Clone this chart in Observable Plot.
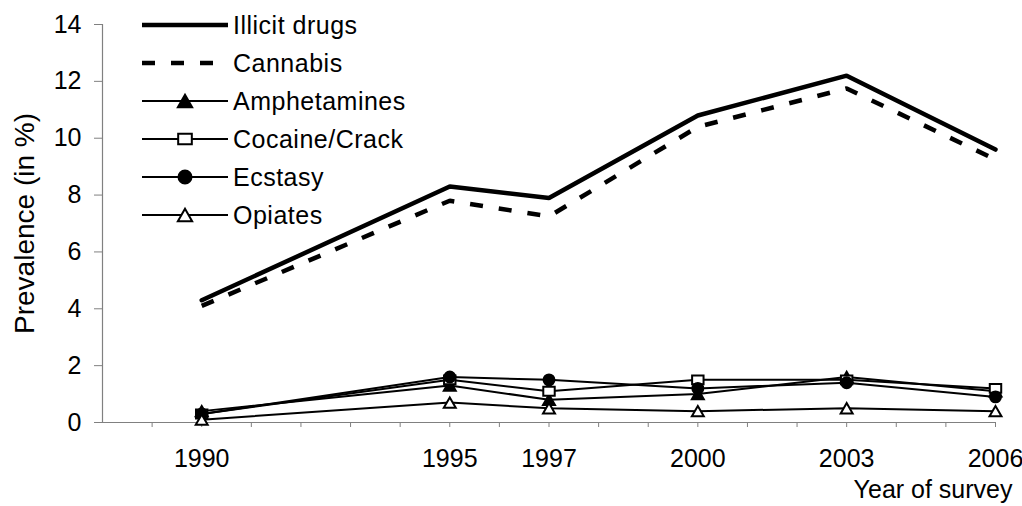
<!DOCTYPE html>
<html>
<head>
<meta charset="utf-8">
<script src="https://cdn.jsdelivr.net/npm/d3@7"></script>
<script src="https://cdn.jsdelivr.net/npm/@observablehq/plot@0.6"></script>
<style>
  html, body { margin: 0; padding: 0; background: white; }
  #chart { width: 1022px; height: 506px; }
</style>
</head>
<body>
<div id="chart"></div>
<script>
// ---- Data ----
const years = [1990, 1995, 1997, 2000, 2003, 2006];
const seriesNames = ["Illicit drugs", "Cannabis", "Amphetamines", "Cocaine/Crack", "Ecstasy", "Opiates"];
const illicitDrugs = [4.3, 8.3, 7.9, 10.8, 12.2, 9.6];
const cannabis = [4.1, 7.8, 7.25, 10.4, 11.75, 9.25];
const amphetamines = [0.4, 1.3, 0.8, 1.0, 1.6, 1.1];
const cocaineCrack = [0.3, 1.5, 1.1, 1.5, 1.5, 1.2];
const ecstasy = [0.3, 1.6, 1.5, 1.2, 1.4, 0.9];
const opiates = [0.1, 0.7, 0.5, 0.4, 0.5, 0.4];
const yTicks = [0, 2, 4, 6, 8, 10, 12, 14];
const xDomain = [1988, 2006];
const yLabel = "Prevalence (in %)";
const xLabel = "Year of survey";

const seriesValues = [illicitDrugs, cannabis, amphetamines, cocaineCrack, ecstasy, opiates];

// ---- Styles ----
const FONT = "'Liberation Sans', Arial, Helvetica, sans-serif";
const AXIS_GRAY = "#808080";
const seriesStyle = [
  {width: 4.5, dash: null, symbol: null},
  {width: 4.5, dash: "13,16", symbol: null},
  {width: 2, dash: null, symbol: "triangle", fill: "black"},
  {width: 2, dash: null, symbol: "square", fill: "white"},
  {width: 2, dash: null, symbol: "circle", fill: "black"},
  {width: 2, dash: null, symbol: "triangle", fill: "white"}
];

// slightly wide marker shapes (d3-symbol compatible)
const rOf = size => Math.sqrt(size / Math.PI);
const shapes = {
  triangle: {draw(p, size) { const r = rOf(size); p.moveTo(0, -r); p.lineTo(1.15 * r, r); p.lineTo(-1.15 * r, r); p.closePath(); }},
  square: {draw(p, size) { const r = rOf(size); p.rect(-1.1 * r, -0.85 * r, 2.2 * r, 1.7 * r); }},
  circle: {draw(p, size) { const r = rOf(size) * 1.05; p.moveTo(r, 0); p.arc(0, 0, r, 0, 2 * Math.PI); }}
};

// ---- Marks ----
const marks = [
  Plot.ruleX([xDomain[0]], {stroke: AXIS_GRAY, strokeWidth: 1.2}),
  Plot.ruleY([0], {stroke: AXIS_GRAY, strokeWidth: 1.2}),
  Plot.axisY({ticks: yTicks, tickSize: 8, tickPadding: 13, stroke: AXIS_GRAY, fill: "black", label: null, tickFormat: d => String(d)}),
  Plot.axisX({ticks: d3.range(xDomain[0] + 1, xDomain[1] + 1), tickSize: 5, tickPadding: 22, stroke: AXIS_GRAY, fill: "black", label: null,
    tickFormat: d => years.includes(d) ? String(d) : ""}),
  Plot.text([yLabel], {frameAnchor: "left", textAnchor: "middle", lineAnchor: "middle", rotate: -90, dx: -77, fontSize: 28, fill: "black"}),
  Plot.text([xLabel], {frameAnchor: "bottom-right", textAnchor: "end", lineAnchor: "middle", dx: 17, dy: 67, fontSize: 25, fill: "black"})
];

seriesNames.forEach((name, i) => {
  const st = seriesStyle[i];
  const data = years.map((year, j) => ({year, value: seriesValues[i][j], series: name}));
  marks.push(Plot.line(data, {
    x: "year", y: "value", stroke: "black", strokeWidth: st.width,
    strokeDasharray: st.dash || undefined,
    strokeLinecap: st.dash ? "butt" : "round", strokeLinejoin: "miter"
  }));
  if (st.symbol) {
    marks.push(Plot.dot(data, {
      x: "year", y: "value", symbol: shapes[st.symbol], r: 5.2,
      fill: st.fill, stroke: "black", strokeWidth: 2
    }));
  }
});

const svg = Plot.plot({
  width: 1022,
  height: 506,
  marginLeft: 102,
  marginRight: 27,
  marginTop: 24,
  marginBottom: 84,
  x: {domain: xDomain},
  y: {domain: [0, 14]},
  style: {fontFamily: FONT, fontSize: "25px", background: "white", color: "black"},
  marks
});

// ---- Legend (built from the series arrays) ----
const lg = d3.select(svg).append("g")
  .attr("font-family", FONT).attr("font-size", 25).attr("fill", "black")
  .attr("text-anchor", "start");
seriesNames.forEach((name, i) => {
  const st = seriesStyle[i];
  const y = 25 + i * 38;
  lg.append("line")
    .attr("x1", 142).attr("x2", 228).attr("y1", y).attr("y2", y)
    .attr("stroke", "black").attr("stroke-width", st.width)
    .attr("stroke-dasharray", st.dash)
    .attr("stroke-linecap", "butt");
  if (st.symbol) {
    lg.append("path")
      .attr("d", d3.symbol(shapes[st.symbol], 6.2 * 6.2 * Math.PI)())
      .attr("transform", `translate(185,${y})`)
      .attr("fill", st.fill).attr("stroke", "black").attr("stroke-width", 2);
  }
  lg.append("text").attr("x", 233).attr("y", y + 9)
    .attr("text-anchor", "start").attr("letter-spacing", "0.5px").text(name);
});

document.getElementById("chart").appendChild(svg);
</script>
</body>
</html>
